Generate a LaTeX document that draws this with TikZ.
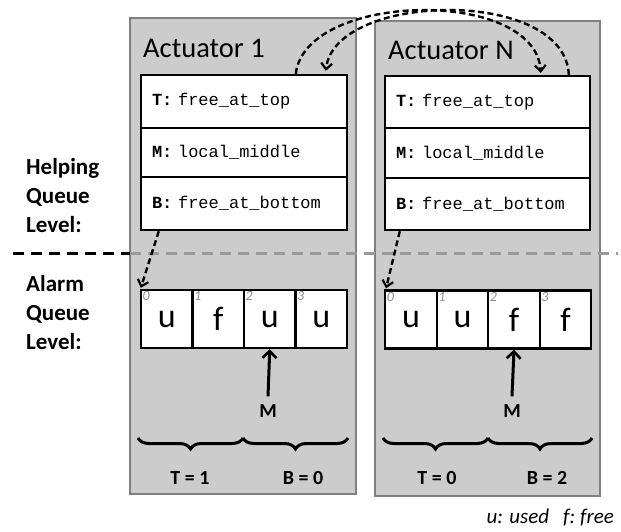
\documentclass[tikz,border=0pt]{standalone}
\usepackage{fontspec}
\setmainfont{Carlito}
\setmonofont{Liberation Mono}
\usetikzlibrary{arrows.meta,decorations.pathreplacing,calc}
\tikzset{
  panel/.style={draw=black!50, fill=gray!40, line width=1.2pt, minimum width=226pt, minimum height=476pt, inner sep=0pt},
  hrow/.style={draw=black, fill=white, line width=2.4pt, minimum width=206pt, text width=184pt, inner xsep=11pt, inner ysep=0pt, align=left, font=\fontsize{17}{18}\ttfamily},
  cell/.style={draw=black, fill=white, line width=2.4pt, minimum width=51.5pt, minimum height=58pt, inner sep=0pt, font=\fontsize{34}{35}\selectfont},
  idx/.style={anchor=north west, inner sep=2.5pt, text=black!45, font=\fontsize{14}{15}\selectfont\itshape},
  acttitle/.style={anchor=west, inner sep=0pt, font=\fontsize{28.5}{30}\selectfont},
  levlabel/.style={anchor=west, inner sep=0pt, align=left, font=\fontsize{23}{29}\selectfont\bfseries},
  blabel/.style={inner sep=0pt, font=\fontsize{20}{21}\selectfont\bfseries},
  dasharrow/.style={dashed, dash pattern=on 6pt off 3.5pt, line width=2.4pt, -{Straight Barb[length=6pt,width=11pt,line width=2.2pt]}},
  marrow/.style={line width=3pt, -{Straight Barb[length=7pt,width=14pt,line width=2.6pt]}},
  bracestyle/.style={decorate, decoration={brace, mirror, amplitude=11pt}, line width=3pt}
}
\newcommand{\cellchar}[1]{\raisebox{-3pt}{#1}}
\begin{document}
\begin{tikzpicture}[x=1pt,y=-1pt]
\useasboundingbox (0,0) rectangle (621,531);
% panels
\node[panel] (P1) at (243,256) {};
\node[panel, minimum width=225pt, minimum height=475pt] (PN) at (487.5,258.5) {};
% separator
\draw[line width=3pt, dash pattern=on 11pt off 7pt] (13,253) -- (130,253);
\draw[line width=3pt, black!40, dash pattern=on 11pt off 7pt] (130,253) -- (618,253);
% titles
\node[acttitle] (A1) at (143,48) {Actuator 1};
\node[acttitle] (AN) at (388,50) {Actuator N};
% helping queue rows, actuator 1
\node[hrow, minimum height=53pt] (T1) at (244,101.5) {\textbf{T:} free\_at\_top};
\node[hrow, minimum height=49pt] (M1) at (244,152.5) {\textbf{M:} local\_middle};
\node[hrow, minimum height=53pt] (B1) at (244,203.5) {\textbf{B:} free\_at\_bottom};
% helping queue rows, actuator N
\node[hrow, minimum width=205pt, text width=183pt, minimum height=52pt] (TN) at (487.5,102) {\textbf{T:} free\_at\_top};
\node[hrow, minimum width=205pt, text width=183pt, minimum height=50pt] (MN) at (487.5,153) {\textbf{M:} local\_middle};
\node[hrow, minimum width=205pt, text width=183pt, minimum height=52pt] (BN) at (487.5,204) {\textbf{B:} free\_at\_bottom};
% level labels
\node[levlabel] (HL) at (26,196) {Helping\\Queue\\Level:};
\node[levlabel] (AL) at (26,313) {Alarm\\Queue\\Level:};
% alarm queue cells, actuator 1
\node[cell] (L0) at (166.75,319) {\cellchar{u}};
\node[cell] (L1) at (218.25,319) {\cellchar{f}};
\node[cell] (L2) at (269.75,319) {\cellchar{u}};
\node[cell] (L3) at (321.25,319) {\cellchar{u}};
% alarm queue cells, actuator N
\node[cell] (R0) at (411,319.5) {\cellchar{u}};
\node[cell] (R1) at (462.5,319.5) {\cellchar{u}};
\node[cell] (R2) at (514,319.5) {\cellchar{f}};
\node[cell] (R3) at (565.5,319.5) {\cellchar{f}};
% indices
\foreach \c/\i in {L0/0,L1/1,L2/2,L3/3,R0/0,R1/1,R2/2,R3/3}
  \node[idx] (I\c) at (\c.north west) {\i};
% M pointers
\node[blabel] (ML) at (268,411) {M};
\node[blabel] (MR) at (512,411) {M};
\draw[marrow] ($(ML.north)+(0,-8)$) coordinate (MLt) -- (L2.south);
\draw[marrow] ($(MR.north)+(0,-8)$) coordinate (MRt) -- (R2.south);
% braces
\coordinate (bl0) at (138,438);
\coordinate (bl1) at (243,438);
\coordinate (bl2) at (348,438);
\coordinate (br0) at (383,438);
\coordinate (br1) at (488,438);
\coordinate (br2) at (592,438);
\draw[bracestyle] (bl0) -- (bl1);
\draw[bracestyle] (bl1) -- (bl2);
\draw[bracestyle] (br0) -- (br1);
\draw[bracestyle] (br1) -- (br2);
\node[blabel] (TL) at (190,478) {T = 1};
\node[blabel] (BL) at (303,478) {B = 0};
\node[blabel] (TR) at (437,478) {T = 0};
\node[blabel] (BR) at (547,478) {B = 2};
% legend
\node[anchor=east, inner sep=0pt, font=\fontsize{21}{22}\selectfont\itshape] (leg) at (614,517) {u: used\hspace{14pt}f:\hspace{5pt}free};
% dashed arrows: helping -> alarm
\draw[dasharrow] ($(B1.south west)+(19,0)$) coordinate (s1) -- ($(L0.north west)+(1,-1)$);
\draw[dasharrow] ($(BN.south west)+(16,0)$) coordinate (s2) -- ($(R0.north west)+(2,-1)$);
% dashed arrows across actuators
\coordinate (a1s) at ($(T1.north west)+(156,0)$);
\coordinate (aNe) at ($(TN.north west)+(157,-2)$);
\coordinate (aNs) at ($(TN.north west)+(185,0)$);
\coordinate (a1e) at ($(T1.north west)+(186,-3)$);
\draw[dasharrow] (a1s) .. controls (305,-8) and (535,-13) .. (aNe);
\draw[dasharrow] (aNs) .. controls (565,-13) and (335,-8) .. (a1e);
\end{tikzpicture}
\end{document}
